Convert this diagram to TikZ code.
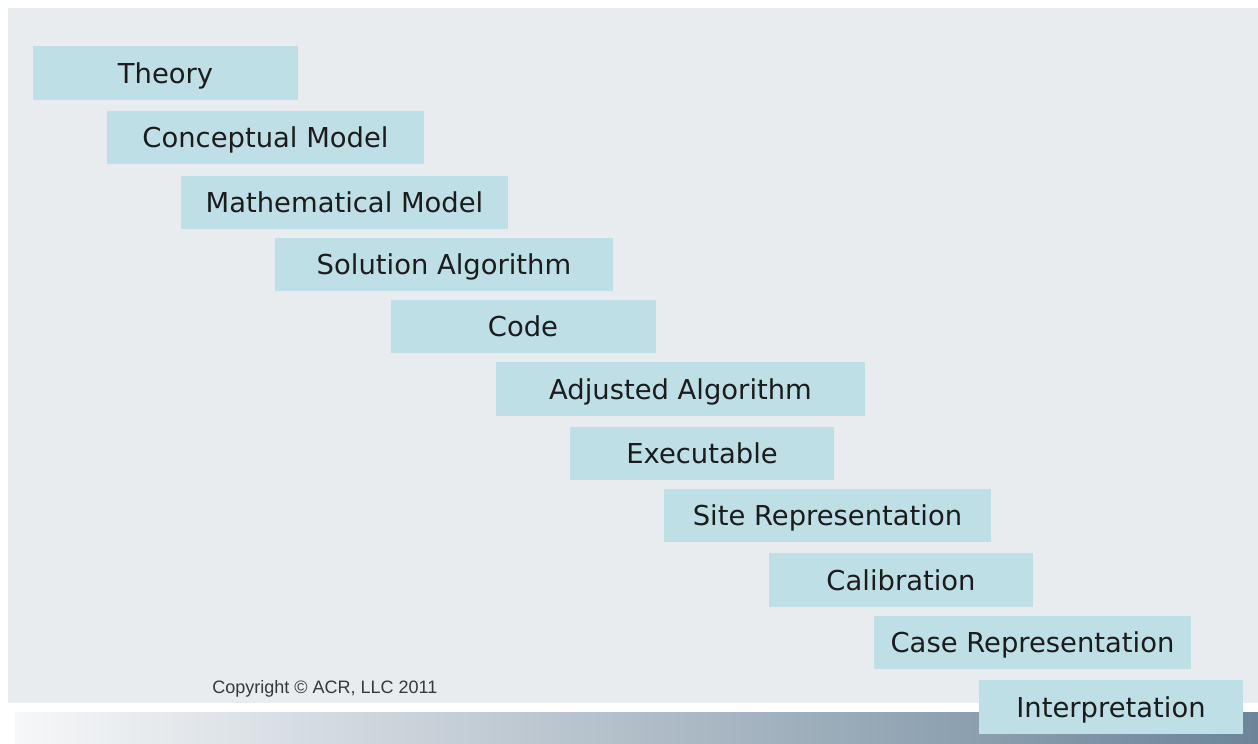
\documentclass[tikz,border=0pt]{standalone}
\usepackage{fontspec}
\newfontfamily\stagefont{DejaVu Sans}
\newfontfamily\notefont{Liberation Sans}

\definecolor{panelgray}{HTML}{E8ECEE}
\definecolor{boxblue}{HTML}{BEDFE5}
\definecolor{stagetext}{HTML}{1C1C1C}
\definecolor{bandleft}{HTML}{F6F7F8}
\definecolor{bandmid}{HTML}{C9D1D7}
\definecolor{bandright}{HTML}{6C8599}

\tikzset{
    stagebox/.style={fill=boxblue, inner sep=0pt, minimum height=26.75pt,
        text height=10pt, text depth=0pt, text=stagetext,
        font=\stagefont\fontsize{13.7}{16}\selectfont},
    copynote/.style={inner sep=0pt, anchor=base west, text=black!78,
        font=\notefont\fontsize{9}{11}\selectfont}
}

\begin{document}
\begin{tikzpicture}[x=0.5pt,y=-0.5pt]
        \useasboundingbox ( 0, 0 ) rectangle ( 1258, 744 );

        % фон
        \fill[white] ( 0, 0 ) rectangle ( 1258, 744 );
        \fill[panelgray] ( 8, 8 ) rectangle ( 1258, 703 );
        \shade[left color=bandleft, middle color=bandmid, right color=bandright]
            ( 15, 712 ) rectangle ( 1258, 744 );

        % ступени
        \node[stagebox, minimum width=132.5pt] (theory) at ( 165.5, 73 ) {Theory};
        \node[stagebox, minimum width=158.5pt] (concept) at ( 265.5, 137.5 ) {Conceptual Model};
        \node[stagebox, minimum width=163.5pt] (math) at ( 344.5, 202.5 ) {Mathematical Model};
        \node[stagebox, minimum width=169pt] (solution) at ( 444, 264.5 ) {Solution Algorithm};
        \node[stagebox, minimum width=132.5pt] (code) at ( 523, 326.5 ) {Code};
        \node[stagebox, minimum width=184.5pt] (adjusted) at ( 680.5, 389 ) {Adjusted Algorithm};
        \node[stagebox, minimum width=132pt] (exec) at ( 702, 453.5 ) {Executable};
        \node[stagebox, minimum width=163.5pt] (site) at ( 827.5, 515.5 ) {Site Representation};
        \node[stagebox, minimum width=132pt] (calib) at ( 901, 580 ) {Calibration};
        \node[stagebox, minimum width=158.5pt] (case) at ( 1032.5, 642.5 ) {Case Representation};
        \node[stagebox, minimum width=132pt] (interp) at ( 1111, 707 ) {Interpretation};

        % подпись
        \node[copynote] (copyright) at ( 212, 693 ) {Copyright © ACR, LLC 2011};
    \end{tikzpicture}
\end{document}
